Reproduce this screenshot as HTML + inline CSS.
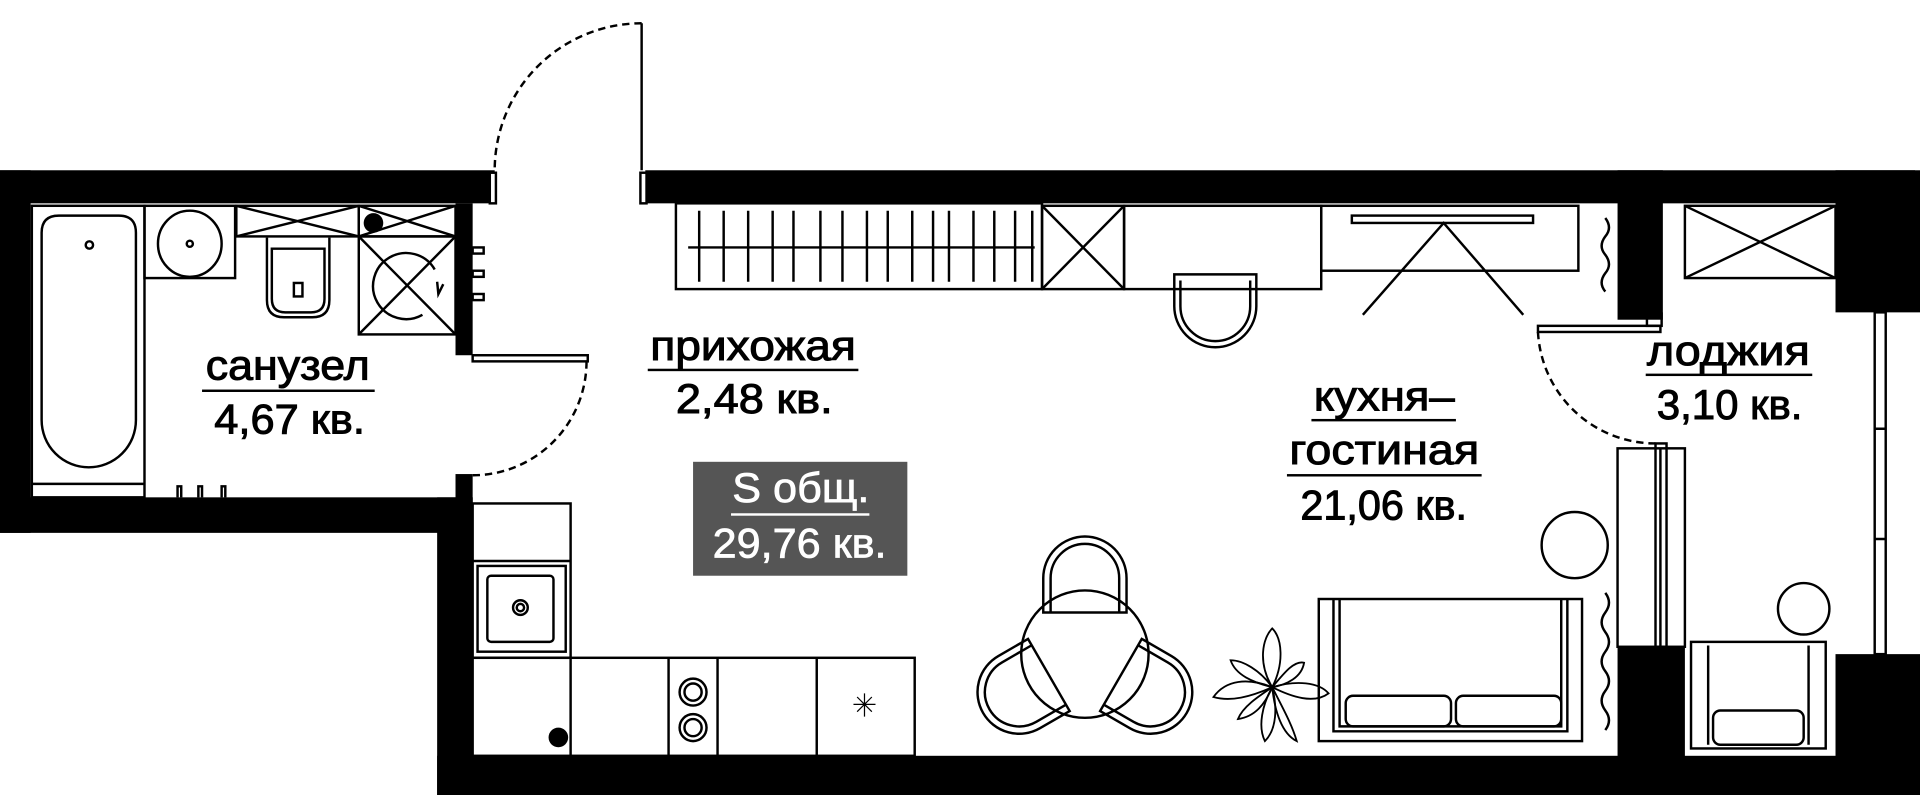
<!DOCTYPE html>
<html><head><meta charset="utf-8"><style>
html,body{margin:0;padding:0;background:#fff;}
svg{display:block}
text{font-family:"Liberation Sans",sans-serif;font-size:34px;}
</style></head><body>
<svg width="1920" height="795" viewBox="0 0 1568 649" preserveAspectRatio="none" xmlns="http://www.w3.org/2000/svg">
<g fill="#000">
<rect x="0" y="139" width="404" height="27"/>
<rect x="527" y="139" width="1037" height="27"/>
<rect x="0" y="139" width="25" height="296"/>
<rect x="0" y="406" width="386" height="29"/>
<rect x="372" y="166" width="14" height="124"/>
<rect x="372" y="387" width="14" height="48"/>
<rect x="357" y="406" width="29" height="243"/>
<rect x="357" y="617" width="1211" height="32"/>
<rect x="1321" y="139" width="37" height="122"/>
<rect x="1321" y="528" width="55" height="121"/>
<rect x="1499" y="139" width="69" height="116"/>
<rect x="1499" y="534" width="69" height="115"/>
</g>
<g fill="none" stroke="#000" stroke-width="2">
<rect x="400" y="141" width="5" height="25" fill="#fff"/>
<rect x="523" y="141" width="5" height="25" fill="#fff"/>
<line x1="524" y1="19" x2="524" y2="139"/>
<path d="M524,19 A120,120 0 0 0 404,139" stroke-dasharray="6,4"/>
<rect x="386" y="290" width="94" height="5"/>
<path d="M479,295 A93,93 0 0 1 386,388" stroke-dasharray="6,4"/>
<rect x="26" y="168" width="92" height="238"/>
<path d="M34,190 Q34,176 48,176 H97 Q111,176 111,190 V343 A38.5,38.5 0 0 1 34,343 Z"/>
<line x1="26" y1="395" x2="118" y2="395"/>
<circle cx="73" cy="200" r="3"/>
<rect x="118" y="168" width="74" height="59"/>
<ellipse cx="155" cy="199" rx="26" ry="27"/>
<circle cx="155" cy="199" r="2.5"/>
<rect x="193" y="168" width="100" height="25"/>
<path d="M193,168 L293,193 M293,168 L193,193"/>
<rect x="293" y="168" width="79" height="25"/>
<path d="M293,168 L372,193 M372,168 L293,193"/>
<path d="M218,194 V245 Q218,259 232,259 H255 Q269,259 269,245 V194"/>
<path d="M222,203 H265 V244 Q265,255 254,255 H233 Q222,255 222,244 Z"/>
<rect x="240" y="231" width="7" height="11"/>
<rect x="293" y="193" width="79" height="80"/>
<path d="M293,193 L372,273 M372,193 L293,273"/>
<path d="M355,220 A27,27 0 1 0 345,257"/>
<path d="M357,230 L358,240 L362,232"/>
<rect x="386" y="202" width="9" height="5"/>
<rect x="386" y="221" width="9" height="5"/>
<rect x="386" y="240" width="9" height="5"/>
<path d="M145,406 V397 H148 V406 M162,406 V397 H165 V406 M181,406 V397 H184 V406"/>
<rect x="552" y="166" width="299" height="70"/>
<line x1="562" y1="202" x2="845" y2="202"/>
<path d="M571,172 V230 M591,172 V230 M611,172 V230 M631,172 V230 M648,172 V230 M670,172 V230 M688,172 V230 M708,172 V230 M725,172 V230 M745,172 V230 M762,172 V230 M775,172 V230 M795,172 V230 M812,172 V230 M829,172 V230 M843,172 V230"/>
<rect x="851" y="168" width="67" height="68"/>
<path d="M851,168 L918,236 M918,168 L851,236"/>
<rect x="918" y="168" width="161" height="68"/>
<rect x="1079" y="168" width="210" height="53"/>
<rect x="1104" y="176" width="148" height="6"/>
<path d="M1113,257 L1179,182 L1244,257"/>
<path d="M959,224 V250 A33.5,33.5 0 0 0 1026,250 V224 Z"/>
<path d="M964,229 V250 A28.5,28.5 0 0 0 1021,250 V229"/>
<rect x="1256" y="266" width="100" height="5"/>
<rect x="1345" y="256" width="12" height="10"/>
<path d="M1256,271 A96,96 0 0 0 1352,362" stroke-dasharray="6,4"/>
<rect x="1321" y="366" width="55" height="162"/>
<rect x="1352" y="362" width="9" height="166"/>
<line x1="1356" y1="366" x2="1356" y2="528"/>
<rect x="1531" y="255" width="9" height="279"/>
<path d="M1531,350 H1540 M1531,440 H1540"/>
<path d="M1311,178 q6,8 0,15 q-6,8 0,15 q6,8 0,15 q-6,8 0,15"/>
<path d="M1311,484 q6,8 0,16 q-6,8 0,16 q6,8 0,16 q-6,8 0,16 q6,8 0,16 q-6,8 0,16 q6,8 0,16"/>
<rect x="1376" y="168" width="123" height="59"/>
<path d="M1376,168 L1499,227 M1499,168 L1376,227"/>
<ellipse cx="1473" cy="497" rx="21" ry="21"/>
<rect x="1381" y="524" width="110" height="87"/>
<path d="M1395,527 V608 M1477,527 V608"/>
<rect x="1399" y="580" width="74" height="28" rx="6"/>
<ellipse cx="1286" cy="445" rx="27" ry="27"/>
<rect x="1077" y="489" width="215" height="116"/>
<path d="M1089,489 V597 H1280 V489 M1094,489 V593 H1275 V489"/>
<rect x="1099" y="568" width="86" height="25" rx="6"/>
<rect x="1189" y="568" width="86" height="25" rx="6"/>
<rect x="386" y="411" width="80" height="126"/>
<line x1="386" y1="458" x2="466" y2="458"/>
<rect x="390" y="462" width="72" height="70"/>
<rect x="398" y="470" width="54" height="54" rx="3"/>
<circle cx="425" cy="496" r="6"/><circle cx="425" cy="496" r="3"/>
<rect x="386" y="537" width="361" height="80"/>
<path d="M466,537 V617 M546,537 V617 M586,537 V617 M667,537 V617"/>
<circle cx="566" cy="565" r="11"/><circle cx="566" cy="565" r="7"/>
<circle cx="566" cy="594" r="11"/><circle cx="566" cy="594" r="7"/>
<path d="M706,566 V585 M697,575 H715 M700,569 L712,581 M712,569 L700,581" stroke-width="1"/>
<circle cx="886" cy="534" r="52" fill="#fff"/>
<path d="M852,500 V472 A34,34 0 0 1 920,472 V500 Z"/>
<path d="M858,500 V472 A28,28 0 0 1 914,472 V500"/>
<g transform="rotate(120 886 534)"><path d="M852,500 V472 A34,34 0 0 1 920,472 V500 Z"/><path d="M858,500 V472 A28,28 0 0 1 914,472 V500"/></g>
<g transform="rotate(240 886 534)"><path d="M852,500 V472 A34,34 0 0 1 920,472 V500 Z"/><path d="M858,500 V472 A28,28 0 0 1 914,472 V500"/></g>
<g transform="translate(1039,561)" stroke-width="1.5">
<path d="M0,0 C-12,-20 -8,-40 0,-48 C8,-40 10,-20 0,0Z"/>
<path d="M0,0 C-20,-8 -38,-6 -48,8 C-34,12 -18,8 0,0Z"/>
<path d="M0,0 C20,-6 38,-4 46,5 C34,14 16,8 0,0Z"/>
<path d="M0,0 C8,16 16,30 20,44 C8,38 2,20 0,0Z"/>
<path d="M0,0 C-8,14 -12,32 -6,44 C4,34 4,16 0,0Z"/>
<path d="M0,0 C-10,-14 -24,-22 -34,-22 C-30,-10 -16,-4 0,0Z"/>
<path d="M0,0 C10,-12 18,-22 26,-20 C24,-8 12,-2 0,0Z"/>
<path d="M0,0 C-12,8 -24,16 -28,26 C-14,24 -6,14 0,0Z"/>
</g>
</g>
<g fill="#000">
<circle cx="305" cy="182" r="8"/>
<circle cx="456" cy="602" r="8"/>
</g>
<g fill="#000" stroke="#000" stroke-width="0.8">
<text x="168" y="310" textLength="134" lengthAdjust="spacingAndGlyphs">санузел</text>
<text x="175" y="354" textLength="123" lengthAdjust="spacingAndGlyphs">4,67 кв.</text>
<text x="531" y="294" textLength="168" lengthAdjust="spacingAndGlyphs">прихожая</text>
<text x="552" y="337" textLength="128" lengthAdjust="spacingAndGlyphs">2,48 кв.</text>
<text x="1073" y="335" textLength="115" lengthAdjust="spacingAndGlyphs">кухня–</text>
<text x="1053" y="379" textLength="155" lengthAdjust="spacingAndGlyphs">гостиная</text>
<text x="1062" y="424" textLength="136" lengthAdjust="spacingAndGlyphs">21,06 кв.</text>
<text x="1345" y="298" textLength="133" lengthAdjust="spacingAndGlyphs">лоджия</text>
<text x="1353" y="342" textLength="119" lengthAdjust="spacingAndGlyphs">3,10 кв.</text>
</g>
<g fill="#000">
<rect x="165" y="318" width="141" height="2"/>
<rect x="529" y="301" width="172" height="2"/>
<rect x="1071" y="342" width="118" height="2"/>
<rect x="1051" y="387" width="159" height="2"/>
<rect x="1344" y="305" width="136" height="2"/>
</g>
<rect x="566" y="377" width="175" height="93" fill="#555"/>
<g fill="#fff" stroke="#fff" stroke-width="0.6">
<text x="598" y="410" textLength="112" lengthAdjust="spacingAndGlyphs">S общ.</text>
<text x="582" y="455" textLength="142" lengthAdjust="spacingAndGlyphs">29,76 кв.</text>
</g>
<rect x="597" y="419" width="113" height="2" fill="#fff"/>
</svg>
</body></html>
